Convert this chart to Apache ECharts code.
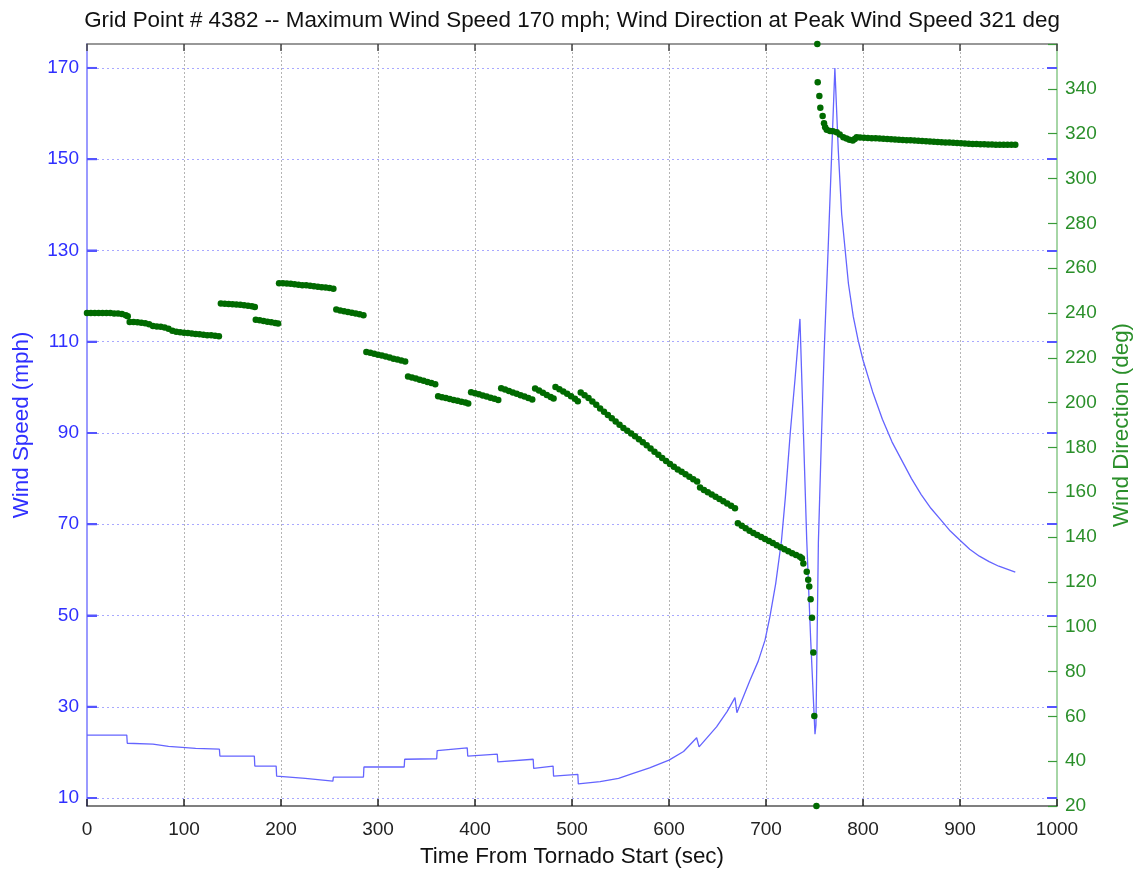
<!DOCTYPE html>
<html>
<head>
<meta charset="utf-8">
<script src="https://cdn.jsdelivr.net/npm/echarts@6/dist/echarts.min.js"></script>
<style>
html,body{margin:0;padding:0;background:#fff;}
#chart{width:1140px;height:869px;}
</style>
</head>
<body>
<div id="chart"></div>
<script>
var titleText = 'Grid Point # 4382 -- Maximum Wind Speed 170 mph; Wind Direction at Peak Wind Speed 321 deg';
var speedTicks = [10, 30, 50, 70, 90, 110, 130, 150, 170];
var dirTicks = [20, 40, 60, 80, 100, 120, 140, 160, 180, 200, 220, 240, 260, 280, 300, 320, 340];
var timeTicks = [0, 100, 200, 300, 400, 500, 600, 700, 800, 900, 1000];

// Wind speed (mph) vs time (sec)
var windSpeed = [
  [0, 23.8], [41, 23.8], [41.5, 22.0], [68, 21.8], [68.5, 21.4], [84, 21.3], [84.5, 21.0],
  [112, 20.9], [112.5, 20.7], [136.5, 20.7], [137, 19.2], [172.5, 19.2], [173, 17.0],
  [195, 17.0], [195.5, 14.8], [225, 14.3], [253.5, 13.7], [254, 14.6], [285, 14.6],
  [285.5, 16.8], [327, 16.8], [327.5, 18.5], [360.5, 18.6], [361, 20.4], [392, 21.0],
  [392.5, 19.2], [423, 19.6], [423.5, 17.9], [460, 18.5], [460.5, 16.5], [480.5, 17.0],
  [481, 14.8], [506, 15.2], [506.5, 13.1], [529, 13.6], [548, 14.3], [563, 15.4],
  [580, 16.6], [600, 18.3], [615, 20.2], [628.5, 23.2], [631, 21.2], [649, 25.6],
  [660, 29.0], [668, 32.0], [670, 28.7], [683.5, 35.8], [692, 40.0], [699, 44.6],
  [704, 49.7], [710, 57.0], [716, 66.5], [720, 76.0], [725, 90.0], [730, 102.0],
  [735, 115.0], [742, 66.5], [746, 45.0], [750.5, 24.0], [751.5, 26.0], [754, 66.0],
  [757, 88.0], [760, 108.0], [764, 130.0], [767.5, 150.0], [771, 170.0], [774.5, 152.0],
  [778, 138.0], [785, 122.7], [790, 115.5], [795, 110.3], [800, 106.0], [810, 99.0],
  [820, 93.0], [830, 88.0], [840, 84.0], [850, 80.0], [860, 76.5], [870, 73.5],
  [880, 71.0], [890, 68.5], [900, 66.5], [910, 64.5], [920, 63.0], [930, 61.8],
  [940, 60.8], [957, 59.5]
];

// Wind direction (deg) vs time (sec)
var windDirection = [
  [0, 240], [4, 240], [8, 240], [12, 240], [16, 240], [20, 240], [24, 240], [28, 239.8],
  [32, 239.7], [36, 239.5], [40, 239], [42, 238.5],
  [44, 236], [48, 236], [52, 235.8], [56, 235.6], [60, 235.4], [64, 235], [68, 234.2],
  [72, 234], [76, 233.8], [80, 233.5], [84, 233], [88, 232], [92, 231.6], [96, 231.4],
  [100, 231.2], [104, 231], [108, 230.8], [112, 230.6], [116, 230.5], [120, 230.3],
  [124, 230.1], [128, 230], [132, 229.8], [136, 229.6],
  [138, 244.2], [142, 244.1], [146, 244], [150, 243.9], [154, 243.8], [158, 243.6],
  [162, 243.4], [166, 243.2], [170, 243], [173, 242.6],
  [174, 237], [178, 236.7], [182, 236.4], [186, 236.1], [190, 235.8], [194, 235.5], [197, 235.3],
  [198, 253.3], [202, 253.2], [206, 253.1], [210, 253], [214, 252.8], [218, 252.6],
  [222, 252.4], [226, 252.3], [230, 252.1], [234, 251.9], [238, 251.7], [242, 251.5],
  [246, 251.3], [250, 251.1], [254, 250.8],
  [257, 241.5], [261, 241.1], [265, 240.8], [269, 240.4], [273, 240.1], [277, 239.8],
  [281, 239.4], [285, 239],
  [288, 222.6], [292, 222.2], [296, 221.8], [300, 221.4], [304, 221], [308, 220.6],
  [312, 220.1], [316, 219.6], [320, 219.2], [324, 218.8], [328, 218.3],
  [331, 211.6], [335, 211.2], [339, 210.7], [343, 210.2], [347, 209.7], [351, 209.2],
  [355, 208.7], [359, 208.2],
  [362, 202.8], [366, 202.4], [370, 202], [374, 201.6], [378, 201.2], [382, 200.8],
  [386, 200.4], [390, 200], [393, 199.6],
  [396, 204.6], [400, 204.2], [404, 203.7], [408, 203.2], [412, 202.7], [416, 202.2],
  [420, 201.7], [424, 201.2],
  [427, 206.4], [431, 205.8], [435, 205.2], [439, 204.5], [443, 203.9], [447, 203.3],
  [451, 202.7], [455, 202], [459, 201.4],
  [462, 206.3], [466, 205.4], [470, 204.4], [474, 203.4], [478, 202.5], [481, 201.8],
  [483, 207], [487, 206], [491, 205], [495, 203.9], [499, 202.8], [503, 201.7], [506, 200.6],
  [509, 204.5], [513, 203.3], [517, 202], [521, 200.5], [525, 199], [529, 197.4],
  [533, 195.9], [537, 194.5], [541, 193], [545, 191.6], [549, 190.1], [553, 188.7],
  [557, 187.4], [561, 186.2], [565, 185], [569, 183.6], [573, 182.3], [577, 181],
  [581, 179.5], [585, 178.1], [589, 176.7], [593, 175.3], [597, 173.9], [601, 172.6],
  [605, 171.4], [609, 170.2], [613, 169.1], [617, 168], [621, 166.9], [625, 165.8], [629, 164.8],
  [632, 162.1], [636, 161], [640, 160], [644, 159], [648, 158], [652, 157], [656, 156],
  [660, 155], [664, 154], [668, 152.9],
  [671, 146.2], [675, 145], [679, 143.9], [683, 142.8], [687, 141.8], [691, 140.9],
  [695, 140], [699, 139.1], [703, 138.2], [707, 137.3], [711, 136.4], [715, 135.5],
  [719, 134.6], [723, 133.7], [727, 132.8], [731, 132], [735, 131.2], [737, 130.5],
  [738.5, 128.2], [742, 124.5], [743.5, 121], [744.6, 117.9], [746, 112.2], [747.4, 104],
  [748.8, 88.5], [749.8, 60.2], [752, 20], [752.9, 360],
  [753.3, 342.9], [755, 336.8], [756, 331.5], [758.4, 327.9], [759.8, 324.6], [761, 322.8],
  [762.6, 321.7], [766, 321.2], [769, 321.1], [772.9, 320.6], [776, 319.6], [779.7, 318.4],
  [783, 317.8], [786, 317.3], [789.4, 316.9], [791.5, 317.6], [793.5, 318.4],
  [797, 318.3], [801, 318.2], [805, 318.1], [809, 318], [813, 317.9], [817, 317.8],
  [821, 317.7], [825, 317.6], [829, 317.5], [833, 317.4], [837, 317.3], [841, 317.2],
  [845, 317.1], [849, 317], [853, 316.9], [857, 316.8], [861, 316.7], [865, 316.6],
  [869, 316.5], [873, 316.4], [877, 316.3], [881, 316.2], [885, 316.1], [889, 316],
  [893, 315.9], [897, 315.8], [901, 315.7], [905, 315.6], [909, 315.5], [913, 315.4],
  [917, 315.4], [921, 315.3], [925, 315.3], [929, 315.2], [933, 315.2], [937, 315.1],
  [941, 315.1], [945, 315], [949, 315], [953, 315], [957, 315]
];

var FONT = 'Liberation Sans, Arial, sans-serif';
var BLUE_TXT = '#2f2fff';
var GREEN_TXT = '#2a8f2a';
var GRID = {left: 87, right: 83, top: 44, bottom: 63, containLabel: false, outerBoundsMode: 'none'};

var chart = echarts.init(document.getElementById('chart'), null, {renderer: 'canvas'});
chart.setOption({
  animation: false,
  backgroundColor: '#ffffff',
  title: {
    text: titleText,
    left: 567, top: 5, textAlign: 'center',
    textStyle: {fontFamily: FONT, fontSize: 22.4, fontWeight: 'normal', color: '#111'}
  },
  grid: [GRID, GRID],
  xAxis: [
    {
      type: 'value', gridIndex: 0, min: 0, max: 1000, interval: 100, position: 'bottom',
      name: 'Time From Tornado Start (sec)', nameLocation: 'middle', nameGap: 40,
      nameTextStyle: {fontFamily: FONT, fontSize: 22.4, color: '#111'},
      axisLine: {show: true, onZero: false, lineStyle: {color: '#555', width: 1.5}},
      axisTick: {show: true, inside: true, length: 7, lineStyle: {color: '#222', width: 1.5}},
      axisLabel: {fontFamily: FONT, fontSize: 19, color: '#222', margin: 14,
        customValues: timeTicks, formatter: function (v) { return String(v); }},
      splitLine: {show: true, lineStyle: {color: '#b4b4b4', type: [2, 2], width: 1}}
    },
    {
      type: 'value', gridIndex: 0, min: 0, max: 1000, interval: 100, position: 'top',
      axisLine: {show: true, onZero: false, lineStyle: {color: '#777', width: 1.5}},
      axisTick: {show: true, inside: true, length: 7, lineStyle: {color: '#444', width: 1.5}},
      axisLabel: {show: false},
      splitLine: {show: false}
    },
    {
      type: 'value', gridIndex: 1, min: 0, max: 1000, show: false
    }
  ],
  yAxis: [
    {
      type: 'value', gridIndex: 0, min: 8.25, max: 175.25, position: 'left',
      name: 'Wind Speed (mph)', nameLocation: 'middle', nameGap: 54, nameRotate: 90,
      nameTextStyle: {fontFamily: FONT, fontSize: 22.4, color: BLUE_TXT},
      axisLine: {show: true, onZero: false, lineStyle: {color: '#9a9aff', width: 2}},
      axisTick: {show: true, inside: true, length: 10, customValues: speedTicks,
        lineStyle: {color: '#5555ff', width: 2}},
      axisLabel: {fontFamily: FONT, fontSize: 19, color: BLUE_TXT, margin: 8,
        customValues: speedTicks},
      splitLine: {show: true, lineStyle: {color: '#a8a8ff', type: [2, 3], width: 1}}
    },
    {
      type: 'value', gridIndex: 0, min: 20, max: 360, interval: 20, position: 'right',
      name: 'Wind Direction (deg)', nameLocation: 'middle', nameGap: 54, nameRotate: 90,
      nameTextStyle: {fontFamily: FONT, fontSize: 22.4, color: GREEN_TXT},
      axisLine: {show: true, onZero: false, lineStyle: {color: '#a6d6a6', width: 2}},
      axisTick: {show: true, inside: true, length: 9, lineStyle: {color: '#3a9a3a', width: 1.2}},
      axisLabel: {fontFamily: FONT, fontSize: 19, color: GREEN_TXT, margin: 8,
        customValues: dirTicks},
      splitLine: {show: false}
    },
    {
      type: 'value', gridIndex: 1, min: 8.25, max: 175.25, position: 'right',
      axisLine: {show: false, onZero: false},
      axisTick: {show: true, inside: true, length: 10, customValues: speedTicks,
        lineStyle: {color: '#5555ff', width: 2}},
      axisLabel: {show: false},
      splitLine: {show: false}
    }
  ],
  series: [
    {
      name: 'Speed ticks', type: 'custom', xAxisIndex: 0, yAxisIndex: 0,
      data: speedTicks.map(function (v) { return [0, v]; }),
      silent: true, clip: false, z: 5,
      renderItem: function (params, api) {
        var p = api.coord([api.value(0), api.value(1)]);
        return {
          type: 'line',
          shape: {x1: p[0], y1: p[1], x2: p[0] + 10, y2: p[1]},
          style: {stroke: '#5555ff', lineWidth: 2}
        };
      }
    },
    {
      name: 'Wind Speed', type: 'line', xAxisIndex: 0, yAxisIndex: 0,
      data: windSpeed, showSymbol: false, symbol: 'none',
      lineStyle: {color: '#6464ff', width: 1.3}, z: 3
    },
    {
      name: 'Wind Direction', type: 'scatter', xAxisIndex: 0, yAxisIndex: 1,
      data: windDirection, symbol: 'circle', symbolSize: 6.5, clip: false,
      itemStyle: {color: '#006a00', opacity: 1}, z: 4
    }
  ]
});
</script>
</body>
</html>
